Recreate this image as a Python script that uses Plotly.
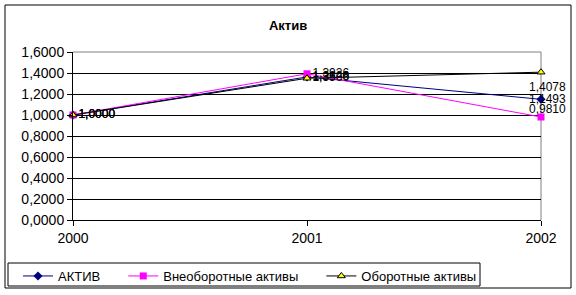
import plotly.graph_objects as go

years = [2000, 2001, 2002]
aktiv = [1.0000, 1.3626, 1.1493]
vneob = [1.0000, 1.3926, 0.9810]
oborot = [1.0000, 1.3500, 1.4078]
series_names = ["АКТИВ", "Внеоборотные активы", "Оборотные активы"]
y_ticks = [0.0, 0.2, 0.4, 0.6, 0.8, 1.0, 1.2, 1.4, 1.6]

def fmt(v):
    return f"{v:.4f}".replace(".", ",")

L, R, T, B = 73, 541, 52, 220
W, H = 576, 295

def px(x):
    return (x - L) / (R - L)

def py(y):
    return (B - y) / (B - T)

PAD = "\u00a0" * 5

fig = go.Figure()
styles = [
    dict(line=dict(color="#000080", width=1), marker=dict(symbol="diamond", size=7, color="#000080")),
    dict(line=dict(color="#FF00FF", width=1), marker=dict(symbol="square", size=7, color="#FF00FF")),
    dict(line=dict(color="#000000", width=1), marker=dict(symbol="triangle-up", size=7, color="#FFFF00", line=dict(color="#000000", width=1))),
]
all_vals = [aktiv, vneob, oborot]
for name, vals, st in zip(series_names, all_vals, styles):
    txt = [fmt(v) for v in vals[:-1]] + [""]
    fig.add_trace(go.Scatter(
        x=years, y=vals, name=name + PAD, mode="lines+markers+text",
        text=txt, textposition="middle right",
        textfont=dict(family="Arial", size=12, color="#000000"),
        cliponaxis=False, **st))

# last-point labels (Excel shifted them to fit)
yshifts = [0, 8, -15]
for vals, ys in zip(all_vals, yshifts):
    fig.add_annotation(x=years[-1], y=vals[-1], text=fmt(vals[-1]), showarrow=False,
                       xanchor="right", xshift=27, yshift=ys,
                       font=dict(family="Arial", size=12, color="#000000"))

shapes = [
    dict(type="rect", xref="paper", yref="paper", x0=px(5), x1=px(571), y0=py(288), y1=py(5),
         line=dict(color="black", width=1), layer="below"),
    dict(type="rect", xref="paper", yref="paper", x0=px(8), x1=px(480), y0=py(286), y1=py(263),
         line=dict(color="black", width=1), layer="below"),
    dict(type="line", xref="paper", yref="paper", x0=0, x1=1, y0=1, y1=1,
         line=dict(color="#808080", width=1), layer="between"),
    dict(type="line", xref="paper", yref="paper", x0=1, x1=1, y0=0, y1=1,
         line=dict(color="#808080", width=1), layer="between"),
]

fig.update_layout(
    width=W, height=H,
    margin=dict(l=L, r=W - R, t=T, b=H - B, autoexpand=False),
    paper_bgcolor="white", plot_bgcolor="white",
    separators=", ",
    title=dict(text="<b>Актив</b>", x=288 / W, xanchor="center", y=1 - 25 / H, yanchor="middle",
               font=dict(family="Arial", size=13, color="black")),
    font=dict(family="Arial", color="black"),
    shapes=shapes,
    showlegend=True,
    legend=dict(orientation="h", x=px(18), y=py(261), xanchor="left", yanchor="top",
                font=dict(family="Arial", size=13, color="black"), bgcolor="rgba(0,0,0,0)",
                borderwidth=0),
    xaxis=dict(range=[2000, 2002], tickvals=years, ticktext=[str(y) for y in years],
               showgrid=False, zeroline=False, showline=True, linecolor="black", linewidth=1,
               ticks="outside", ticklen=5, tickcolor="black",
               tickfont=dict(family="Arial", size=14, color="black")),
    yaxis=dict(range=[0, 1.6], tickvals=y_ticks, tickformat=".4f",
               showgrid=True, gridcolor="black", gridwidth=1, zeroline=False,
               showline=True, linecolor="black", linewidth=1,
               ticks="outside", ticklen=5, tickcolor="black",
               tickfont=dict(family="Arial", size=14, color="black")),
)

fig.write_html("out.html")
